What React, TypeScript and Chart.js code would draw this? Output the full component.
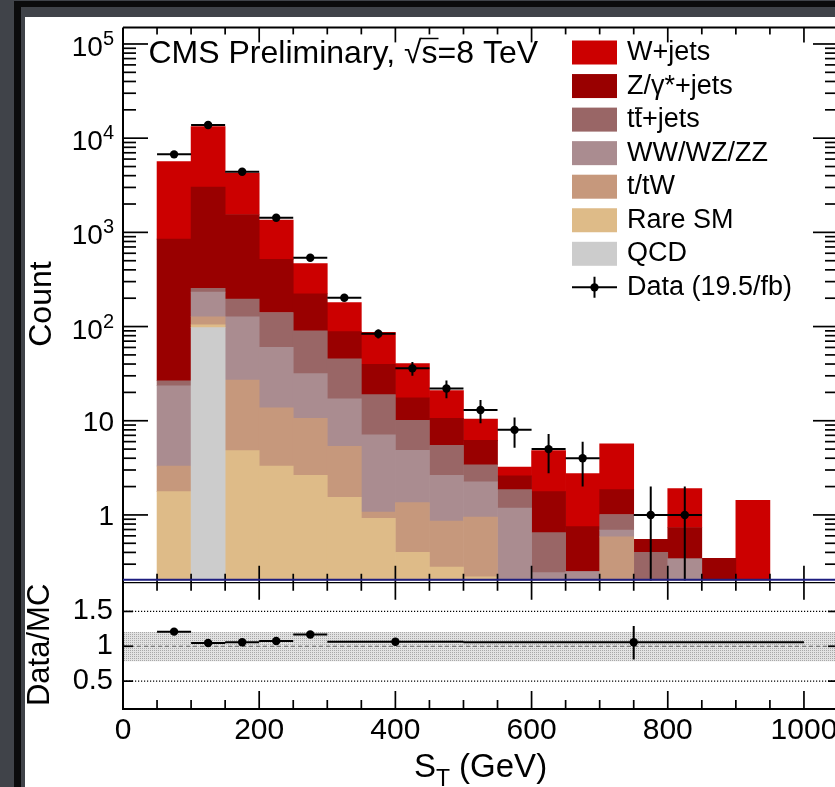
import React, { useEffect, useRef } from "react";
import { Chart, registerables } from "chart.js";

Chart.register(...registerables);

// ---------------- data ----------------
const binEdges = [50, 100, 150, 200, 250, 300, 350, 400, 450, 500, 550, 600, 650, 700, 750, 800, 850, 900, 950];

// per-component contributions (stack order bottom -> top)
const qcd = [0, 97.5, 0, 0, 0, 0, 0, 0, 0, 0, 0, 0, 0, 0, 0, 0, 0, 0];
const rareSM = [1.77, 6.5, 4.82, 3.31, 2.64, 1.54, 0.92, 0.4, 0.28, 0.22, 0, 0, 0, 0, 0, 0, 0, 0];
const singleTop = [1.54, 23, 22.2, 10.4, 7.96, 3.81, 0.15, 0.95, 0.58, 0.73, 0, 0, 0, 0.585, 0, 0, 0, 0];
const diboson = [20.2, 105, 100, 46.6, 21.1, 11.75, 6.0, 3.51, 1.78, 1.3, 1.18, 0.244, 0.25, 0.105, 0, 0.341, 0, 0];
const ttbar = [3.1, 23, 69, 80.7, 58.3, 28.4, 11.9, 5.24, 2.84, 1.16, 0.68, 0.405, 0, 0.32, 0.401, 0, 0, 0];
const zjets = [822, 2765, 1353, 376, 133, 43, 20.7, 7.4, 5.12, 2.77, 0.74, 1.12, 0.5, 0.85, 0.151, 0.395, 0.347, 0];
const wjets = [4790, 10280, 2711, 836, 242, 91.5, 47.4, 22.9, 10.3, 4.22, 0.63, 3.05, 2.0, 3.83, 0, 1.17, 0, 1.43];

const dataCounts = [6730, 13800, 4400, 1432, 538, 202, 84, 36, 22, 13, 8, 5, 4, null, 1, 1, null, null];

// ratio panel
const ratioCenters = [75, 125, 175, 225, 275, 400, 750];
const ratioHalfWidths = [25, 25, 25, 25, 25, 100, 250];
const ratioValues = [1.21, 1.048, 1.057, 1.076, 1.17, 1.065, 1.057];
const ratioErrLow = [0.02, 0.01, 0.015, 0.03, 0.05, 0.05, 0.247];
const ratioErrHigh = [0.02, 0.01, 0.015, 0.03, 0.05, 0.05, 0.233];
const bandLow = 0.785;
const bandHigh = 1.205;
const ratioRefLines = [0.5, 1, 1.5];

// axes
const xTickLabels = [0, 200, 400, 600, 800, 1000];
const yTickExponents = [0, 1, 2, 3, 4, 5];
const ratioTickLabels = ["0.5", "1", "1.5"];

const X_MIN = 0, X_MAX = 1050;
const Y_MIN = 0.2, Y_MAX = 1.5e5;
const R_MIN = 0.1, R_MAX = 1.94;

const FONT = '"Liberation Sans", Arial, Helvetica, sans-serif';

const components = [
  { label: "QCD", values: qcd, color: "#cccccc" },
  { label: "Rare SM", values: rareSM, color: "#debb88" },
  { label: "t/tW", values: singleTop, color: "#c6987c" },
  { label: "WW/WZ/ZZ", values: diboson, color: "#aa8c90" },
  { label: "tt\u0304+jets", values: ttbar, color: "#996666" },
  { label: "Z/\u03b3*+jets", values: zjets, color: "#990000" },
  { label: "W+jets", values: wjets, color: "#cc0000" },
];
const dataLabel = "Data (19.5/fb)";

// ---------------- plugins ----------------
const backgroundPlugin = {
  id: "bg",
  beforeDraw(chart: any) {
    const { ctx, width, height } = chart;
    ctx.save();
    ctx.fillStyle = "#404349";
    ctx.fillRect(0, 0, width, height);
    ctx.fillStyle = "#0b0b0c";
    ctx.fillRect(14, 1, width, 6);
    ctx.fillRect(14, 1, 7, height);
    ctx.fillStyle = "#ffffff";
    ctx.fillRect(25, 17, width - 25, height - 17);
    ctx.restore();
  },
};

const framePlugin = {
  id: "frame",
  afterDatasetsDraw(chart: any) {
    const { ctx, chartArea } = chart;
    const xs = chart.scales.x, ys = chart.scales.y, yr = chart.scales.yr;
    const L = chartArea.left, R = chartArea.right;
    const line = (x1: number, y1: number, x2: number, y2: number) => {
      ctx.beginPath(); ctx.moveTo(x1, y1); ctx.lineTo(x2, y2); ctx.stroke();
    };
    ctx.save();
    ctx.strokeStyle = "#000";
    ctx.lineWidth = 1.7;
    xs.ticks.forEach((t: any) => {
      const px = xs.getPixelForValue(t.value);
      if (px <= L + 0.5 || px >= R - 0.5) return;
      const major = t.value % 200 === 0;
      line(px, ys.top, px, ys.top + (major ? 15 : 7));
      line(px, ys.bottom, px, ys.bottom - (major ? 15 : 7));
      line(px, yr.top, px, yr.top + (major ? 19 : 10));
      line(px, yr.bottom, px, yr.bottom - (major ? 18 : 9));
    });
    ys.ticks.forEach((t: any) => {
      const v = t.value;
      if (!(v > Y_MIN && v < Y_MAX)) return;
      const e = Math.floor(Math.log10(v) + 1e-9);
      const sig = v / Math.pow(10, e);
      if (Math.abs(sig - Math.round(sig)) > 1e-6) return;
      const py = ys.getPixelForValue(v);
      const len = Math.round(sig) === 1 ? 25 : 13;
      line(L, py, L + len, py);
      line(R - len, py, R, py);
    });
    yr.ticks.forEach((t: any) => {
      const py = yr.getPixelForValue(t.value);
      line(L, py, L + 10, py);
      line(R - 10, py, R, py);
    });
    ctx.lineWidth = 2;
    line(L, ys.top, R, ys.top);
    line(L, ys.top, L, yr.bottom);
    line(R, ys.top, R, yr.bottom);
    line(L - 1, yr.bottom, R, yr.bottom);
    ctx.lineWidth = 1.2;
    line(L, yr.top + 1.8, R, yr.top + 1.8);
    ctx.strokeStyle = "#1d1d80";
    ctx.lineWidth = 2;
    line(L, ys.bottom - 1, R, ys.bottom - 1);
    ctx.restore();
  },
};

const annotatePlugin = {
  id: "annotate",
  afterDraw(chart: any) {
    const { ctx, chartArea } = chart;
    const ys = chart.scales.y;
    ctx.save();
    ctx.fillStyle = "#000";
    ctx.textBaseline = "alphabetic";

    // log-axis labels with superscripts
    const right = ys.right - 9;
    yTickExponents.forEach((e) => {
      const py = ys.getPixelForValue(Math.pow(10, e));
      if (e >= 2) {
        ctx.font = `28px ${FONT}`;
        const w10 = ctx.measureText("10").width;
        ctx.font = `20px ${FONT}`;
        const ws = ctx.measureText(String(e)).width;
        const x0 = right - w10 - ws;
        ctx.textAlign = "left";
        ctx.font = `28px ${FONT}`;
        ctx.fillText("10", x0, py + 12);
        ctx.font = `20px ${FONT}`;
        ctx.fillText(String(e), x0 + w10, py + 1);
      } else {
        ctx.textAlign = "right";
        ctx.font = `28px ${FONT}`;
        ctx.fillText(e === 1 ? "10" : "1", right, py + 10);
      }
    });

    // CMS label
    ctx.textAlign = "left";
    ctx.font = `32px ${FONT}`;
    const cmsPre = "CMS Preliminary, \u221a";
    const cmsX = 148.5, cmsY = 63;
    ctx.fillText(cmsPre + "s=8 TeV", cmsX, cmsY);
    const sx = cmsX + ctx.measureText(cmsPre).width;
    const sw = ctx.measureText("s").width;
    ctx.strokeStyle = "#000";
    ctx.lineWidth = 1.5;
    ctx.beginPath();
    ctx.moveTo(sx - 1, cmsY - 24.5);
    ctx.lineTo(sx + sw + 1, cmsY - 24.5);
    ctx.stroke();

    // legend
    const lx = 572, bw = 45, bh = 24, tx = 627, row0 = 52.5, step = 33.55;
    ctx.font = `27px ${FONT}`;
    const legendItems = components.slice().reverse();
    legendItems.forEach((c, i) => {
      const cy = row0 + i * step;
      ctx.fillStyle = c.color;
      ctx.fillRect(lx, cy - bh / 2, bw, bh);
      ctx.fillStyle = "#000";
      const idx = c.label.indexOf("\u0304");
      const plain = c.label.replace("\u0304", "");
      ctx.fillText(plain, tx, cy + 7.5);
      if (idx > 0) {
        const ox = tx + ctx.measureText(plain.slice(0, idx - 1)).width;
        const ow = ctx.measureText(plain[idx - 1]).width;
        ctx.lineWidth = 1.6;
        ctx.beginPath();
        ctx.moveTo(ox + 0.5, cy + 7.5 - 19);
        ctx.lineTo(ox + ow + 0.5, cy + 7.5 - 19);
        ctx.stroke();
      }
    });
    const dy = row0 + legendItems.length * step;
    ctx.strokeStyle = "#000";
    ctx.lineWidth = 2;
    ctx.beginPath();
    ctx.moveTo(lx, dy); ctx.lineTo(lx + bw, dy);
    ctx.moveTo(lx + bw / 2, dy - 10.5); ctx.lineTo(lx + bw / 2, dy + 10.5);
    ctx.stroke();
    ctx.beginPath();
    ctx.arc(lx + bw / 2, dy, 4.2, 0, Math.PI * 2);
    ctx.fill();
    ctx.fillText(dataLabel, tx, dy + 7.5);

    // x title  S_T (GeV)
    const big = `33px ${FONT}`, small = `23px ${FONT}`;
    ctx.font = big; const wS = ctx.measureText("S").width; const wRest = ctx.measureText(" (GeV)").width;
    ctx.font = small; const wT = ctx.measureText("T").width;
    const total = wS + wT + wRest;
    const cx = (chartArea.left + chartArea.right) / 2;
    const x0 = cx - total / 2;
    const by = 777;
    ctx.textAlign = "left";
    ctx.font = big; ctx.fillText("S", x0, by);
    ctx.font = small; ctx.fillText("T", x0 + wS, by + 9);
    ctx.font = big; ctx.fillText(" (GeV)", x0 + wS + wT, by);
    ctx.restore();
  },
};

// ---------------- component ----------------
export default function App() {
  const ref = useRef<HTMLCanvasElement>(null);

  useEffect(() => {
    const canvas = ref.current as HTMLCanvasElement;
    const centers = binEdges.slice(0, -1).map((e, i) => (e + binEdges[i + 1]) / 2);
    const halfW = binEdges.slice(0, -1).map((e, i) => (binEdges[i + 1] - e) / 2);

    // stacked histogram as floating bars
    const cum = centers.map(() => 0);
    const histDatasets = components.map((c) => ({
      type: "bar",
      label: c.label,
      data: centers.map((x, i) => {
        const lo = cum[i];
        const hi = lo + c.values[i];
        cum[i] = hi;
        return { x, y: [Math.max(lo, Y_MIN), Math.max(hi, Y_MIN)] };
      }),
      backgroundColor: c.color,
      borderWidth: 0,
      grouped: false,
      barPercentage: 1,
      categoryPercentage: 1,
      xAxisID: "x",
      yAxisID: "y",
      order: 5,
    }));

    // data points + error bars
    const pts: any[] = [], xErr: any[] = [], yErr: any[] = [];
    centers.forEach((x, i) => {
      const n = dataCounts[i];
      if (n == null) return;
      const s = Math.sqrt(n);
      pts.push({ x, y: n });
      xErr.push({ x: x - halfW[i], y: n }, { x: x + halfW[i], y: n }, { x: x + halfW[i], y: null });
      yErr.push({ x, y: Math.max(n - s, Y_MIN) }, { x, y: n + s }, { x, y: null });
    });

    const rPts: any[] = [], rxErr: any[] = [], ryErr: any[] = [];
    ratioCenters.forEach((x, i) => {
      const v = ratioValues[i];
      rPts.push({ x, y: v });
      rxErr.push({ x: x - ratioHalfWidths[i], y: v }, { x: x + ratioHalfWidths[i], y: v }, { x: x + ratioHalfWidths[i], y: null });
      ryErr.push({ x, y: v - ratioErrLow[i] }, { x, y: v + ratioErrHigh[i] }, { x, y: null });
    });

    // band pattern
    const pc = document.createElement("canvas");
    pc.width = 2; pc.height = 2;
    const pctx = pc.getContext("2d") as CanvasRenderingContext2D;
    pctx.fillStyle = "#e2e2e2"; pctx.fillRect(0, 0, 2, 2);
    pctx.fillStyle = "#a8a8a8"; pctx.fillRect(0, 0, 1, 1);
    const pattern = (canvas.getContext("2d") as CanvasRenderingContext2D).createPattern(pc, "repeat");

    const lineBase = { type: "line", pointRadius: 0, borderColor: "#000", borderWidth: 2, fill: false, spanGaps: false, xAxisID: "x" };

    const datasets: any[] = [
      { ...lineBase, label: "data-pts", data: pts, yAxisID: "y", showLine: false, pointRadius: 4.2, pointBackgroundColor: "#000", pointBorderWidth: 0, order: 0 },
      { ...lineBase, label: "data-xerr", data: xErr, yAxisID: "y", order: 1 },
      { ...lineBase, label: "data-yerr", data: yErr, yAxisID: "y", order: 1 },
      { ...lineBase, label: "ratio-pts", data: rPts, yAxisID: "yr", showLine: false, pointRadius: 4.2, pointBackgroundColor: "#000", pointBorderWidth: 0, order: 0 },
      { ...lineBase, label: "ratio-xerr", data: rxErr, yAxisID: "yr", order: 1 },
      { ...lineBase, label: "ratio-yerr", data: ryErr, yAxisID: "yr", order: 1 },
      ...ratioRefLines.map((v) => ({
        ...lineBase,
        label: "ref-" + v,
        data: [{ x: X_MIN, y: v }, { x: X_MAX, y: v }],
        yAxisID: "yr",
        borderWidth: v === 1 ? 1 : 1.2,
        borderColor: v === 1 ? "#666" : "#000",
        borderDash: v === 1 ? [4, 3] : [1.2, 1.8],
        order: 3,
      })),
      {
        ...lineBase,
        label: "band",
        data: [{ x: X_MIN, y: bandHigh }, { x: X_MAX, y: bandHigh }],
        yAxisID: "yr",
        borderWidth: 0,
        fill: { value: bandLow },
        backgroundColor: pattern,
        order: 4,
      },
      ...histDatasets,
    ];

    const chart = new Chart(canvas, {
      type: "bar",
      data: { datasets },
      options: {
        animation: false,
        responsive: true,
        maintainAspectRatio: false,
        events: [],
        layout: { padding: { top: 18, left: 0, right: 12, bottom: 0 } },
        plugins: { legend: { display: false }, tooltip: { enabled: false } },
        scales: {
          x: {
            type: "linear",
            min: X_MIN,
            max: X_MAX,
            offset: false,
            grid: { display: false, drawTicks: false, offset: false },
            border: { display: false },
            ticks: {
              stepSize: 50,
              autoSkip: false,
              includeBounds: false,
              maxRotation: 0,
              minRotation: 0,
              padding: 4,
              color: "#000",
              font: { family: FONT, size: 30 },
              callback: (v: any) => (xTickLabels.includes(v) ? String(v) : ""),
            },
            afterFit: (s: any) => { s.height = 78; },
          },
          y: {
            type: "logarithmic",
            position: "left",
            stack: "panels",
            stackWeight: 561,
            weight: 2,
            min: Y_MIN,
            max: Y_MAX,
            grid: { display: false, drawTicks: false },
            border: { display: false },
            ticks: { display: false },
            title: { display: true, text: "Count", color: "#000", font: { family: FONT, size: 32 }, padding: { top: 23, bottom: 0 } },
            afterFit: (s: any) => { s.width = 123; },
          },
          yr: {
            type: "linear",
            position: "left",
            stack: "panels",
            stackWeight: 130,
            weight: 1,
            min: R_MIN,
            max: R_MAX,
            grid: { display: false, drawTicks: false },
            border: { display: false },
            ticks: {
              stepSize: 0.5,
              includeBounds: false,
              autoSkip: false,
              padding: 10,
              color: "#000",
              font: { family: FONT, size: 29 },
              callback: (v: any) => {
                const i = ratioTickLabels.indexOf(String(v));
                return i >= 0 ? ratioTickLabels[i] : "";
              },
            },
            title: { display: true, text: "Data/MC", color: "#000", font: { family: FONT, size: 31 }, padding: { top: 22, bottom: 0 } },
            afterFit: (s: any) => { s.width = 123; },
          },
        },
      } as any,
      plugins: [backgroundPlugin, framePlugin, annotatePlugin],
    } as any);

    return () => chart.destroy();
  }, []);

  return (
    <div style={{ position: "fixed", left: 0, top: 0, width: 835, height: 787, overflow: "hidden", background: "#404349" }}>
      <div style={{ position: "relative", width: 850, height: 787 }}>
        <canvas ref={ref} />
      </div>
    </div>
  );
}
